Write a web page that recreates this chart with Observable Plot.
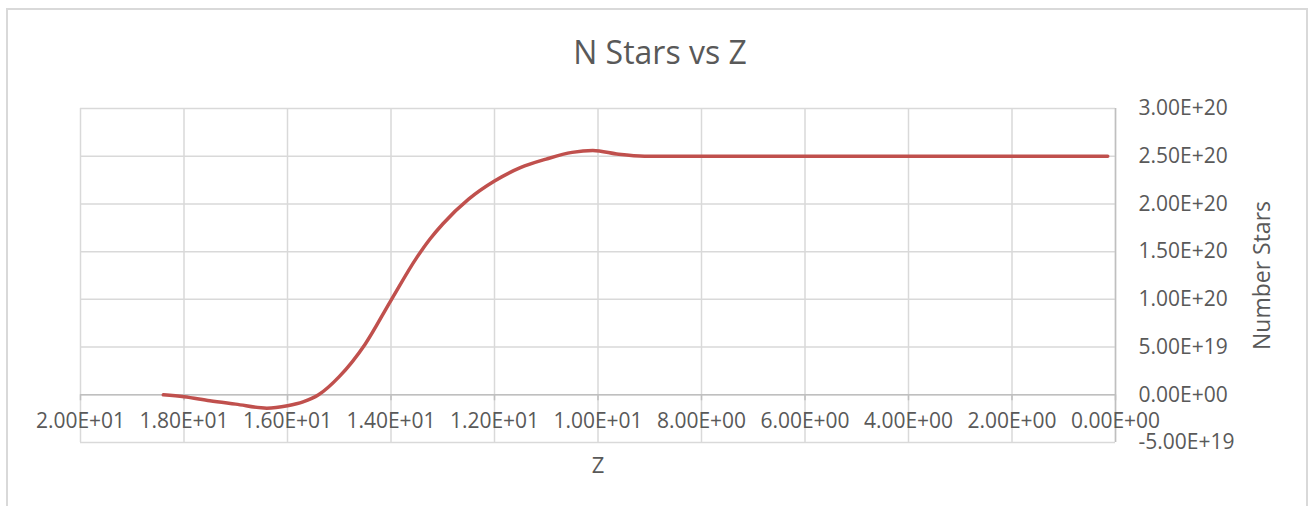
<!DOCTYPE html>
<html>
<head>
<meta charset="utf-8">
<script src="https://cdn.jsdelivr.net/npm/d3@7"></script>
<script src="https://cdn.jsdelivr.net/npm/@observablehq/plot@0.6"></script>
<style>
  html, body { margin: 0; padding: 0; background: #fff; overflow: hidden; }
  #frame { position: absolute; left: 6px; top: 8px; width: 1302px; height: 560px; border: 2px solid #d9d9d9; box-sizing: border-box; }
  #chart { position: absolute; left: 0; top: 0; width: 1312px; }
  #title { height: 80px; font-family: "Open Sans", sans-serif; font-size: 32px; color: #595959; text-align: center; padding-left: 8px; box-sizing: border-box; line-height: 104px; }
</style>
</head>
<body>
<div id="frame"></div>
<div id="chart">
  <div id="title">N Stars vs Z</div>
</div>
<script>
// ---- data ----
const zValues = [18.4, 18.0, 17.5, 17.0, 16.4, 16.0, 15.7, 15.4, 15.0, 14.5, 14.0, 13.5, 13.25, 13.0, 12.5, 12.0, 11.5, 11.0, 10.5, 10.1, 9.6, 9.1, 8.0, 6.0, 4.0, 2.0, 0.15];
const nStars = [0, -2.0e18, -6.3e18, -9.8e18, -1.4e19, -1.15e19, -7.5e18, 0, 1.9e19, 5.3e19, 9.9e19, 1.44e20, 1.63e20, 1.79e20, 2.05e20, 2.24e20, 2.38e20, 2.47e20, 2.54e20, 2.56e20, 2.52e20, 2.50e20, 2.50e20, 2.50e20, 2.50e20, 2.50e20, 2.50e20];

const xTicks = [20, 18, 16, 14, 12, 10, 8, 6, 4, 2, 0];
const xTickLabels = ["2.00E+01", "1.80E+01", "1.60E+01", "1.40E+01", "1.20E+01", "1.00E+01", "8.00E+00", "6.00E+00", "4.00E+00", "2.00E+00", "0.00E+00"];
const yTicks = [-5e19, 0, 5e19, 1e20, 1.5e20, 2e20, 2.5e20, 3e20];
const yTickLabels = ["-5.00E+19", "0.00E+00", "5.00E+19", "1.00E+20", "1.50E+20", "2.00E+20", "2.50E+20", "3.00E+20"];

const xTitle = "Z";
const yTitle = "Number Stars";

const data = zValues.map((z, i) => ({z, n: nStars[i]}));
const yLabelMap = new Map(yTicks.map((v, i) => [v, yTickLabels[i]]));
const xLabelMap = new Map(xTicks.map((v, i) => [v, xTickLabels[i]]));

const textColor = "#595959";
const gridColor = "#d9d9d9";
const axisColor = "#bfbfbf";
const font = "Open Sans";

const plot = Plot.plot({
  width: 1312,
  height: 426,
  marginLeft: 80,
  marginRight: 197,
  marginTop: 28,
  marginBottom: 64,
  style: {fontFamily: font, fontSize: "21px", color: textColor, background: "transparent", overflow: "visible"},
  x: {domain: [20, 0]},
  y: {domain: [-5e19, 3e20]},
  marks: [
    Plot.ruleY(yTicks, {y: d => d, stroke: gridColor, strokeWidth: 1.5}),
    Plot.ruleX(xTicks, {x: d => d, stroke: gridColor, strokeWidth: 1.5}),
    Plot.ruleY([0], {y: d => d, stroke: axisColor, strokeWidth: 1.5}),
    Plot.ruleX([0], {x: d => d, stroke: axisColor, strokeWidth: 1.5}),
    Plot.ruleX(xTicks, {x: d => d, y1: () => 0, y2: () => 0, insetBottom: -6, stroke: axisColor, strokeWidth: 1.5}),
    Plot.line(data, {x: "z", y: "n", curve: "monotone-x", stroke: "#c0504d", strokeWidth: 3.5, strokeLinecap: "round"}),
    Plot.axisY(yTicks, {anchor: "right", tickSize: 0, tickPadding: 23, tickFormat: d => yLabelMap.get(d), fontSize: 21, label: null}),
    Plot.axisX([], {label: null}),
    Plot.text(xTicks, {x: d => d, y: () => 0, text: d => xLabelMap.get(d), dy: 26, fontSize: 21, fill: textColor}),
    Plot.text([xTitle], {frameAnchor: "bottom", text: d => d, dy: 23, lineAnchor: "middle", fontSize: 22, fill: textColor}),
    Plot.text([yTitle], {frameAnchor: "right", text: d => d, dx: 147, rotate: -90, textAnchor: "middle", lineAnchor: "middle", fontSize: 23, fill: textColor})
  ]
});
document.getElementById("chart").appendChild(plot);
</script>
</body>
</html>
